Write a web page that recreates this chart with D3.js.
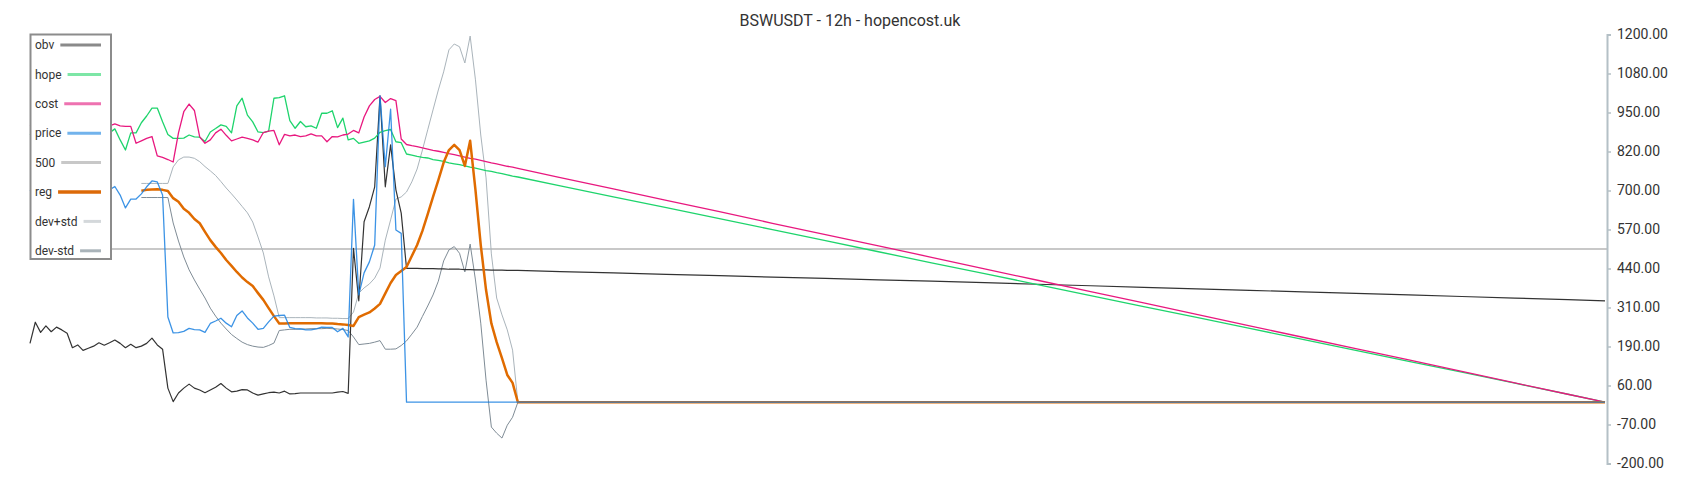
<!DOCTYPE html>
<html>
<head>
<meta charset="utf-8">
<script src="https://cdn.jsdelivr.net/npm/d3@7"></script>
<style>
  html, body { margin: 0; padding: 0; background: #fff; }
  svg { display: block; font-family: Roboto, "Noto Sans", "DejaVu Sans", sans-serif; }
</style>
</head>
<body>
<svg id="chart" width="1700" height="500"></svg>
<script>
// ---------- data ----------
const title = "BSWUSDT - 12h - hopencost.uk";

// bar index (12h candles); dense early part, sparser on the straight tail
const bars = [
  0,1,2,3,4,5,6,7,8,9,10,11,12,13,14,15,16,17,18,19,
  20,21,22,23,24,25,26,27,28,29,30,31,32,33,34,35,36,37,38,39,
  40,41,42,43,44,45,46,47,48,49,50,51,52,53,54,55,56,57,58,59,
  60,61,62,63,64,65,66,67,68,69,70,71,72,73,74,75,76,77,78,79,
  80,81,82,83,84,85,86,87,88,89,90,91,92,
  100,110,120,130,140,150,160,170,180,190,200,210,220,230,240,250,260,270,280,290,297
];

const obv = [
  192,261,228,249,230,245,236,225,178,187,169,176,183,194,186,194,203,192,178,189,
  178,183,192,209,187,173,46,2,30,46,59,46,40,31,40,49,61,46,34,36,
  41,40,30,23,27,31,33,30,36,27,28,30,30,30,30,30,30,30,33,35,
  29,502,331,589,638,703,1000,703,840,693,617,437,437,437,436,436,436,435,435,434,
  434,434,433,433,432,432,432,431,431,431,430,430,430,
  426,422,417,413,408,404,399,395,390,385,380,375,370,365,360,355,350,345,340,335,331
];

const hope = [
  872,885,890,868,880,895,905,888,870,860,875,890,900,884,878,879,892,856,823,879,
  879,912,934,960,960,915,874,861,861,862,872,866,865,851,882,893,905,900,879,967,
  992,937,915,882,880,885,992,994,1000,919,894,916,899,902,894,943,943,951,896,927,
  856,861,845,849,853,862,881,886,890,850,847,810,806,802,799,797,792,789,786,781,
  778,775,771,767,764,760,756,753,749,746,742,738,735,
  706,670,635,599,563,527,491,455,420,384,348,312,277,241,205,169,133,98,62,26,0
];

const cost = [
  905,898,910,895,902,890,885,900,895,905,888,896,902,893,899,902,908,902,900,900,
  845,853,861,867,804,799,792,784,879,948,973,952,866,845,856,879,891,871,853,859,
  865,861,856,849,880,885,887,840,874,869,872,867,869,876,869,869,850,867,866,872,
  875,887,879,931,967,988,998,978,991,984,859,841,837,834,830,826,822,819,815,811,
  808,804,800,796,793,789,785,781,778,774,770,767,763,
  733,696,659,622,584,547,510,473,435,398,361,324,287,249,212,175,138,101,63,26,0
];

const price = [
  690,705,712,698,685,700,715,722,708,690,695,710,705,698,702,693,704,676,634,663,
  663,680,703,722,719,676,278,226,227,231,241,237,236,228,257,265,274,258,246,283,
  298,275,258,238,241,262,281,283,284,244,240,239,236,236,239,245,244,244,230,241,
  213,662,350,422,458,513,1000,769,956,562,551,0,0,0,0,0,0,0,0,0,
  0,0,0,0,0,0,0,0,0,0,0,0,0,
  0,0,0,0,0,0,0,0,0,0,0,0,0,0,0,0,0,0,0,0,0
];

const level500 = 500;

const reg = [
  null,null,null,null,null,null,null,null,null,null,null,null,null,null,null,null,null,null,null,null,
  null,690,693,694,695,693,689,666,654,631,618,598,584,556,529,507,487,464,445,425,
  407,392,379,356,334,307,281,257,257,258,258,258,258,258,258,258,257,257,255,254,
  252,249,278,286,293,306,321,355,389,415,428,441,477,513,559,614,670,725,782,823,
  840,823,771,853,693,513,366,257,196,144,89,63,0,
  0,0,0,0,0,0,0,0,0,0,0,0,0,0,0,0,0,0,0,0,0
];

const devPlus = [
  null,null,null,null,null,null,null,null,null,null,null,null,null,null,null,null,null,null,null,null,
  null,714,714,714,714,714,714,768,791,800,800,796,785,769,755,740,720,699,680,660,
  639,618,588,539,487,409,347,276,276,276,276,276,276,276,275,275,275,274,274,273,
  273,294,356,373,386,405,438,529,595,663,670,686,719,761,823,889,954,1019,1078,1150,
  1169,1160,1107,1195,1052,872,732,484,340,285,236,170,0,
  null,null,null,null,null,null,null,null,null,null,null,null,null,null,null,null,null,null,null,null,null
];

const devMinus = [
  null,null,null,null,null,null,null,null,null,null,null,null,null,null,null,null,null,null,null,null,
  null,668,668,668,668,668,668,585,526,474,432,399,369,340,307,281,258,239,221,208,
  196,188,183,180,179,185,193,234,236,238,238,239,239,240,240,240,241,240,239,237,
  234,213,188,190,192,196,201,173,173,174,185,200,222,245,280,314,350,395,461,497,
  508,486,425,516,399,258,72,-81,-101,-117,-75,-49,0,
  null,null,null,null,null,null,null,null,null,null,null,null,null,null,null,null,null,null,null,null,null
];

const tickLabels = ["-200.00","-70.00","60.00","190.00","310.00","440.00","570.00","700.00","820.00","950.00","1080.00","1200.00"];

// ---------- drawing ----------
const svg = d3.select("#chart");
const x = d3.scaleLinear().domain([0, 297]).range([30, 1605]);
const y = d3.scaleLinear().domain([-200, 1200]).range([463.5, 34.5]);

svg.append("text")
  .attr("x", 850).attr("y", 26)
  .attr("text-anchor", "middle")
  .attr("font-size", 16)
  .attr("fill", "#333")
  .text(title);

const line = d3.line()
  .defined(d => d.v !== null && d.v !== undefined)
  .x(d => x(d.b))
  .y(d => y(d.v));

function pts(arr) { return bars.map((b, i) => ({ b: b, v: arr[i] })); }

const series = [
  { name: "dev-std", data: devMinus, color: "#7f8c96", w: 1, sw: "#a9b3b9" },
  { name: "dev+std", data: devPlus, color: "#aab4bb", w: 1, sw: "#d4d8db" },
  { name: "obv", data: obv, color: "#333333", w: 1.2, sw: "#8a8a8a" },
  { name: "hope", data: hope, color: "#1ed46c", w: 1.3, sw: "#7de6a6" },
  { name: "cost", data: cost, color: "#e8187f", w: 1.3, sw: "#ee72b0" },
  { name: "reg", data: reg, color: "#e06b00", w: 2.5, sw: "#dc6a08" },
  { name: "price", data: price, color: "#1a80e0", w: 1.3, sw: "#72b3ec" }
];

const g = svg.append("g");

// 500 level line
g.append("line")
  .attr("x1", x(0)).attr("x2", 1607)
  .attr("y1", y(level500)).attr("y2", y(level500))
  .attr("stroke", "#c8c8c8").attr("stroke-width", 2);

series.forEach(s => {
  g.append("path")
    .datum(pts(s.data))
    .attr("fill", "none")
    .attr("stroke", s.color)
    .attr("stroke-width", s.w)
    .attr("stroke-linejoin", "round")
    .attr("opacity", s.name === "price" ? 0.85 : 1)
    .attr("d", line);
});

// right axis
const tickVals = tickLabels.map((t, k) => -200 + k * 1400 / 11);
const axis = d3.axisRight(y)
  .tickValues(tickVals)
  .tickFormat((d, i) => tickLabels[i])
  .tickSizeInner(4).tickSizeOuter(4).tickPadding(6);
const ag = svg.append("g").attr("transform", "translate(1607,0)").call(axis);
ag.select(".domain").attr("stroke", "#b4c0c6").attr("stroke-width", 2);
ag.selectAll(".tick line").attr("stroke", "#b4c0c6").attr("stroke-width", 1.5);
ag.selectAll(".tick text").attr("fill", "#333").attr("font-size", 14)
  .attr("font-family", "Roboto, 'Noto Sans', sans-serif");

// legend
const legendOrder = [
  { name: "obv", sw: "#8a8a8a", w: 3 },
  { name: "hope", sw: "#7de6a6", w: 3 },
  { name: "cost", sw: "#ee72b0", w: 3 },
  { name: "price", sw: "#72b3ec", w: 3 },
  { name: "500", sw: "#c8c8c8", w: 3 },
  { name: "reg", sw: "#dc6a08", w: 3.5 },
  { name: "dev+std", sw: "#d4d8db", w: 3 },
  { name: "dev-std", sw: "#a9b3b9", w: 3 }
];
const lg = svg.append("g");
lg.append("rect")
  .attr("x", 30.5).attr("y", 34.5).attr("width", 80.5).attr("height", 224.5)
  .attr("fill", "#fff").attr("stroke", "#8c8c8c").attr("stroke-width", 2);
legendOrder.forEach((it, k) => {
  const cy = 45 + k * 29.4;
  const t = lg.append("text")
    .attr("x", 35).attr("y", cy).attr("dy", "0.35em")
    .attr("font-size", 12).attr("fill", "#333")
    .text(it.name);
  const tw = t.node().getComputedTextLength();
  lg.append("line")
    .attr("x1", 35 + tw + 6).attr("x2", 101)
    .attr("y1", cy).attr("y2", cy)
    .attr("stroke", it.sw).attr("stroke-width", it.w);
});
</script>
</body>
</html>
